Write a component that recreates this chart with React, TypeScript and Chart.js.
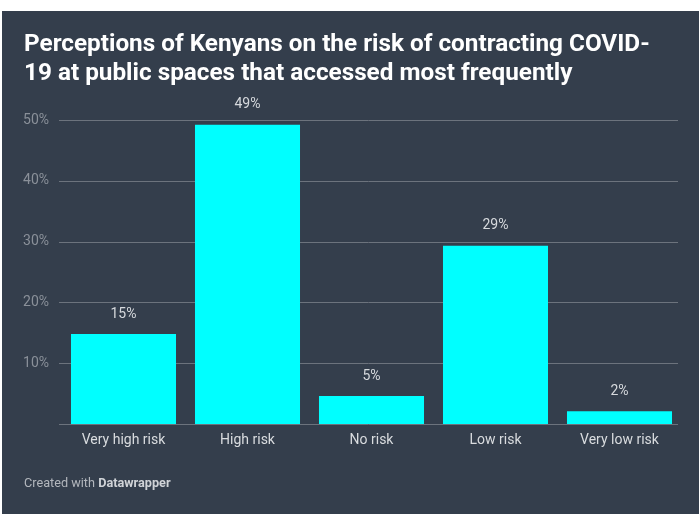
import React, { useEffect, useRef } from "react";
import { Chart, registerables } from "chart.js";

Chart.register(...registerables);

const categories = ["Very high risk", "High risk", "No risk", "Low risk", "Very low risk"];
const values = [14.8, 49.2, 4.6, 29.3, 2.1];
const valueLabels = ["15%", "49%", "5%", "29%", "2%"];
const yTicks = [0, 10, 20, 30, 40, 50];

const titleLines = [
  "Perceptions of Kenyans on the risk of contracting COVID-",
  "19 at public spaces that accessed most frequently",
];

const BG = "#343e4c";
const GRID_LEFT = 57;
const GRID_RIGHT = 676;

const gridPlugin = {
  id: "customGrid",
  beforeDatasetsDraw(chart: any) {
    const ctx = chart.ctx;
    const y = chart.scales.y;
    ctx.save();
    ctx.strokeStyle = "#6c737d";
    ctx.lineWidth = 1;
    yTicks.forEach((v) => {
      const py = Math.round(y.getPixelForValue(v)) + 0.5;
      ctx.beginPath();
      ctx.moveTo(GRID_LEFT, py);
      ctx.lineTo(GRID_RIGHT, py);
      ctx.stroke();
    });
    ctx.restore();
  },
};

const labelPlugin = {
  id: "valueLabels",
  afterDatasetsDraw(chart: any) {
    const ctx = chart.ctx;
    const meta = chart.getDatasetMeta(0);
    ctx.save();
    ctx.fillStyle = "#d6d9dd";
    ctx.font = "14px Roboto";
    ctx.textAlign = "center";
    ctx.textBaseline = "middle";
    meta.data.forEach((bar: any, i: number) => {
      ctx.fillText(valueLabels[i], bar.x, bar.y - 20);
    });
    ctx.restore();
  },
};

export default function App() {
  const ref = useRef<HTMLCanvasElement>(null);
  useEffect(() => {
    const chart = new Chart(ref.current!, {
      type: "bar",
      data: {
        labels: categories,
        datasets: [
          {
            data: values,
            backgroundColor: "#00ffff",
            borderWidth: 0,
            categoryPercentage: 1,
            barPercentage: 0.847,
          },
        ],
      },
      options: {
        animation: false,
        responsive: false,
        maintainAspectRatio: false,
        layout: { padding: { top: 109, right: 17.5, bottom: 60, left: 0 } },
        plugins: { legend: { display: false }, tooltip: { enabled: false }, title: { display: false } },
        scales: {
          x: {
            grid: { display: false },
            border: { display: false },
            ticks: { color: "#d9dcdf", font: { family: "Roboto", size: 14 }, padding: 0, maxRotation: 0 },
            afterFit: (s: any) => {
              s.height = 30;
            },
          },
          y: {
            min: 0,
            max: 50,
            afterBuildTicks: (s: any) => {
              s.ticks = yTicks.map((v) => ({ value: v }));
            },
            grid: { display: false, drawTicks: false },
            border: { display: false },
            ticks: {
              color: "#8a9099",
              font: { family: "Roboto", size: 14 },
              padding: 12.5,
              callback: (v: any) => (v === 0 ? "" : v + "%"),
            },
            afterFit: (s: any) => {
              s.width = 59.5;
            },
          },
        },
      },
      plugins: [gridPlugin, labelPlugin],
    });
    return () => chart.destroy();
  }, []);

  return (
    <div style={{ position: "fixed", left: 0, top: 0, width: 699, height: 514, background: "#ffffff", overflow: "hidden" }}>
      <div style={{ position: "absolute", left: 2, top: 11, width: 697, height: 503, background: BG }}>
        <canvas ref={ref} width={697} height={503} style={{ position: "absolute", left: 0, top: 0 }} />
        <div
          style={{
            position: "absolute",
            left: 22,
            top: 17,
            color: "#ffffff",
            fontFamily: "Roboto",
            fontWeight: 700,
            fontSize: 24.3,
            lineHeight: "29px",
            whiteSpace: "nowrap",
          }}
        >
          {titleLines.map((l, i) => (
            <div key={i}>{l}</div>
          ))}
        </div>
        <div
          style={{
            position: "absolute",
            left: 22,
            top: 464,
            color: "#b3b7bd",
            fontFamily: "Roboto",
            fontSize: 12.7,
            lineHeight: "16px",
            whiteSpace: "nowrap",
          }}
        >
          Created with <span style={{ fontWeight: 700, color: "#d0d3d7" }}>Datawrapper</span>
        </div>
      </div>
    </div>
  );
}
